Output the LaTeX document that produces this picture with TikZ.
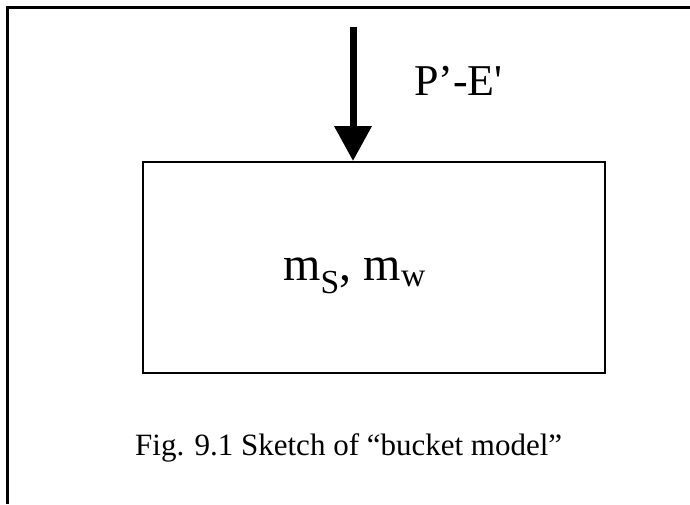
\documentclass[tikz,border=0pt]{standalone}
\usepackage{fontspec}
\setmainfont{Liberation Serif}
\usetikzlibrary{arrows.meta}
\tikzset{
  frame/.style={draw=black, line width=2.5pt},
  bucket/.style={draw=black, line width=2pt},
  flowarrow/.style={line width=7pt, -{Triangle[length=35pt,width=36pt]}},
  lbl/.style={inner sep=0pt, anchor=base west, font=\fontsize{44}{48}\selectfont},
  midlbl/.style={inner sep=0pt, anchor=base west, font=\fontsize{48}{52}\selectfont},
  captiontext/.style={inner sep=0pt, anchor=base west, font=\fontsize{31}{35}\selectfont}
}
\begin{document}
\begin{tikzpicture}[x=1pt,y=-1pt]
\useasboundingbox (0,0) rectangle (690,504);
\fill[white] (0,0) rectangle (690,504);
\draw[frame] (690,7.5) -- (7.5,7.5) -- (7.5,504);
\node[bucket, minimum width=462pt, minimum height=211pt, inner sep=0pt, anchor=north west] (box) at (142,161) {};
\coordinate (src) at (353,27);
\draw[flowarrow] (src) -- (box.north -| src);
\node[lbl] (pe) at (414,95) {P’-E\textquotesingle};
\node[midlbl] (ms) at (283,280) {m\textsubscript{S}, m\textsubscript{w}};
\node[captiontext] (caption) at (135,455) {Fig. 9.1 Sketch of “bucket model”};
\end{tikzpicture}
\end{document}
